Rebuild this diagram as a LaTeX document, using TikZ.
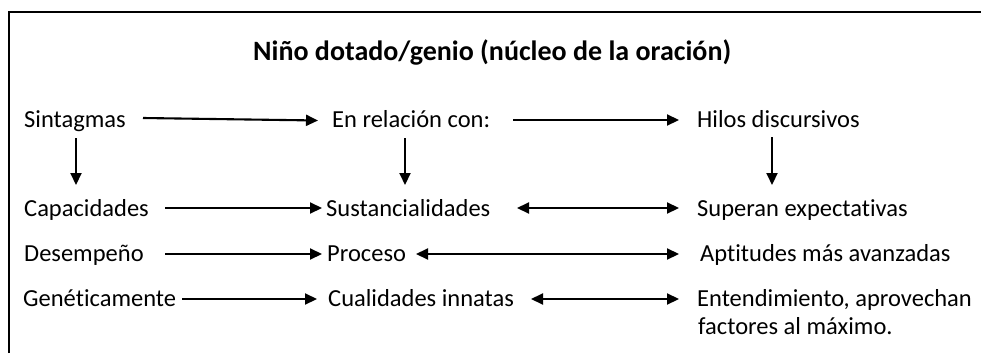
\documentclass[tikz,border=0pt]{standalone}
\usepackage{fontspec}
\setmainfont{Carlito}[Ligatures=CommonOff]
\usetikzlibrary{arrows.meta}
\begin{document}
\begin{tikzpicture}[x=1pt,y=-1pt,
  lbl/.style={anchor=base west,inner sep=0pt,font=\fontsize{24.5}{28}\selectfont},
  ttl/.style={anchor=base west,inner sep=0pt,font=\fontsize{28}{32}\selectfont\bfseries},
  tip/.tip={Triangle[length=12pt,width=11pt]},
  con/.style={line width=2.1pt,-tip},
  bicon/.style={line width=2.1pt,tip-tip},
  frame/.style={line width=2.5pt}]
\useasboundingbox (0,0) rectangle (981,353);
\coordinate (fbl) at (9,353);
\coordinate (ftl) at (9,12);
\coordinate (ftr) at (981,12);
\draw[frame] (fbl) -- (ftl) -- (ftr);
\node[ttl] (title) at (253,60) {Niño dotado/genio (núcleo de la oración)};
% column 1
\node[lbl] (sint) at (24,127) {Sintagmas};
\node[lbl] (cap) at (24,216.5) {Capacidades};
\node[lbl] (des) at (24,261) {Desempeño};
\node[lbl] (gen) at (23,306) {Genéticamente};
% column 2
\node[lbl] (enr) at (332,127) {En relación con:};
\node[lbl] (sus) at (326,216.5) {Sustancialidades};
\node[lbl] (pro) at (327,261) {Proceso};
\node[lbl] (cua) at (328,306) {Cualidades innatas};
% column 3
\node[lbl] (hil) at (697,127) {Hilos discursivos};
\node[lbl] (sup) at (697,216.5) {Superan expectativas};
\node[lbl] (apt) at (700,261) {Aptitudes más avanzadas};
\node[lbl] (ent) at (697,306) {Entendimiento, aprovechan};
\node[lbl] (fac) at (698,334) {factores al máximo.};
% connector endpoints
\coordinate (a1s) at (143,118);
\coordinate (a1e) at (318,120.5);
\coordinate (a2s) at (513,120);
\coordinate (a2e) at (679,120);
\draw[con] (a1s) -- (a1e);
\draw[con] (a2s) -- (a2e);
\coordinate (v1s) at (76,138); \coordinate (v1e) at (76,185);
\coordinate (v2s) at (405,138); \coordinate (v2e) at (405,185);
\coordinate (v3s) at (772,137); \coordinate (v3e) at (772,185);
\draw[con] (v1s) -- (v1e);
\draw[con] (v2s) -- (v2e);
\draw[con] (v3s) -- (v3e);
\coordinate (r2a) at (165,208); \coordinate (r2b) at (322,208);
\coordinate (r2c) at (517,208); \coordinate (r2d) at (679,208);
\draw[con] (r2a) -- (r2b);
\draw[bicon] (r2c) -- (r2d);
\coordinate (r3a) at (165,254); \coordinate (r3b) at (322,254);
\coordinate (r3c) at (416,254); \coordinate (r3d) at (679,254);
\draw[con] (r3a) -- (r3b);
\draw[bicon] (r3c) -- (r3d);
\coordinate (r4a) at (182,299); \coordinate (r4b) at (317,299);
\coordinate (r4c) at (531,299); \coordinate (r4d) at (679,299);
\draw[con] (r4a) -- (r4b);
\draw[bicon] (r4c) -- (r4d);
\end{tikzpicture}
\end{document}
